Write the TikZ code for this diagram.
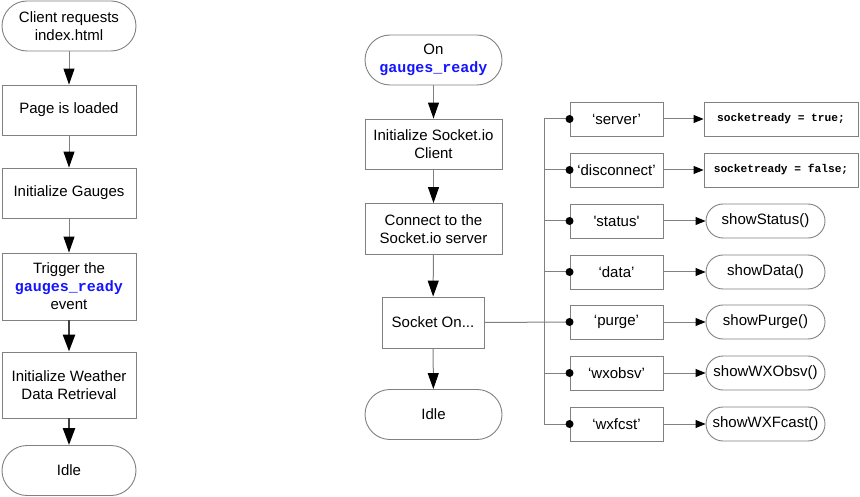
\documentclass[tikz,border=0pt]{standalone}
\usepackage{fontspec}
\setmainfont{Liberation Sans}
\setmonofont{Liberation Mono}
\usetikzlibrary{arrows.meta}
\definecolor{bordergray}{RGB}{128,128,128}
\definecolor{darkline}{RGB}{64,64,64}
\definecolor{codeblue}{RGB}{20,20,255}
\newcommand{\gr}{{\ttfamily\bfseries\color{codeblue}gauges\_ready}}
\tikzset{
  base/.style={draw=bordergray, line width=0.9pt, align=center, inner sep=0pt,
    font=\fontsize{15}{18}\selectfont, text=black},
  boxL/.style={base, minimum width=134pt},
  boxM/.style={base, minimum width=137pt},
  term/.style={rounded corners=25pt, minimum height=50pt},
  evbox/.style={base, minimum width=93pt, minimum height=34pt},
  codebox/.style={base, minimum width=154pt, minimum height=34pt, font=\fontsize{11.2}{13}\selectfont\ttfamily\bfseries},
  resbox/.style={base, minimum width=119pt, minimum height=34pt, rounded corners=17pt},
  flowarrow/.style={draw=bordergray, line width=1pt, -{Triangle[length=16pt,width=11pt,color=black]}},
  thickarrow/.style={draw=darkline, line width=2.6pt, -{Triangle[length=17pt,width=12pt,color=black]}},
  smallarrow/.style={draw=bordergray, line width=1pt, -{Triangle[length=10pt,width=8pt,color=black]}},
  busline/.style={draw=bordergray, line width=1pt},
  dot/.style={circle, fill=black, inner sep=0pt, minimum size=8pt},
}
\begin{document}
\begin{tikzpicture}[x=1pt, y=-1pt]
\useasboundingbox (0,0) rectangle (860,497);

% left column
\node[boxL, term] (c1) at (69,26) {Client requests\\index.html};
\node[boxL, minimum height=50pt] (c2) at (69,110) {Page is loaded};
\node[boxL, minimum height=50pt] (c3) at (69,193) {Initialize Gauges};
\node[boxL, minimum height=67pt] (c4) at (69,286.5) {Trigger the\\\gr\\event};
\node[boxL, minimum height=66pt] (c5) at (69,385) {Initialize Weather\\Data Retrieval};
\node[boxL, term] (c6) at (69,470.5) {Idle};

\draw[flowarrow] (c1) -- (c2);
\draw[flowarrow] (c2) -- (c3);
\draw[flowarrow] (c3) -- (c4);
\draw[thickarrow] (c4) -- (c5);
\draw[thickarrow] (c5) -- (c6);

% middle column
\node[boxM, term] (m1) at (433.5,60) {On\\\gr};
\node[boxM, minimum height=50pt] (m2) at (433.5,144) {Initialize Socket.io\\Client};
\node[boxM, minimum height=51pt] (m3) at (433.5,229) {Connect to the\\Socket.io server};
\node[base, minimum width=102pt, minimum height=51pt] (m4) at (433,322.5) {Socket On...};
\node[boxM, term] (m5) at (433.5,414.5) {Idle};

\draw[flowarrow] (m1) -- (m2);
\draw[flowarrow] (m2) -- (m3);
\draw[flowarrow] (m3) -- (m4);
\draw[flowarrow] (m4) -- (m5);

% event boxes
\node[evbox] (e1) at (616.5,119) {‘server’};
\node[evbox] (e2) at (616.5,170) {‘disconnect’};
\node[evbox] (e3) at (616.5,221) {\textquotesingle status\textquotesingle};
\node[evbox] (e4) at (616.5,272) {‘data’};
\node[evbox] (e5) at (616.5,322) {‘purge’};
\node[evbox] (e6) at (616.5,373) {‘wxobsv’};
\node[evbox] (e7) at (616.5,424) {‘wxfcst’};

% results
\node[codebox] (r1) at (781,119) {socketready = true;};
\node[codebox] (r2) at (781,170) {socketready = false;};
\node[resbox] (r3) at (765.5,221) {showStatus()};
\node[resbox] (r4) at (765.5,272) {showData()};
\node[resbox] (r5) at (765.5,322) {showPurge()};
\node[resbox] (r6) at (765.5,373) {showWXObsv()};
\node[resbox] (r7) at (765.5,424) {showWXFcast()};

% bus
\coordinate (bt) at (544,119);
\coordinate (bb) at (544,424);
\draw[busline] (bt) -- (bb);
\foreach \i in {1,2,3,4,6,7}{
  \draw[busline] (bt |- e\i.west) -- (e\i.west);
}
\draw[busline] (m4.east) -- (e5.west);
\foreach \i in {1,...,7}{
  \node[dot] (d\i) at (e\i.west) {};
  \draw[smallarrow] (e\i.east) -- (r\i.west);
}
\end{tikzpicture}
\end{document}
